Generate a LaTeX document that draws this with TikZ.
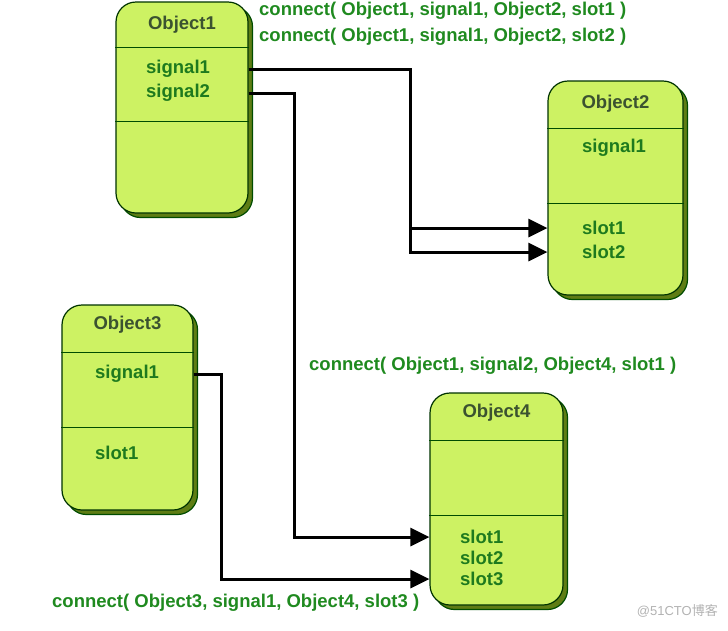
\documentclass[tikz,border=0pt]{standalone}
\usepackage{fontspec}
\setmainfont{Liberation Sans}
\newfontfamily\cjkfont{Noto Sans CJK SC}
\usetikzlibrary{arrows.meta,shadows}

\definecolor{boxfill}{HTML}{CDF263}
\definecolor{boxshadow}{HTML}{5E7D14}
\definecolor{titlecol}{HTML}{3B5230}
\definecolor{itemcol}{HTML}{1E7A1E}
\definecolor{callcol}{HTML}{1F8A1F}

\tikzset{
    objbox/.style={draw=black!80!green, line width=1.2pt, fill=boxfill, rounded corners=20pt,
        drop shadow={shadow xshift=4.5pt, shadow yshift=-4.5pt, fill=boxshadow, draw=black!70!green, opacity=1}},
    divider/.style={draw=black!70!green, line width=1pt},
    objtitle/.style={text=titlecol, font=\fontsize{18.5}{22}\selectfont\bfseries},
    item/.style={anchor=west, inner sep=0pt, text=itemcol, font=\fontsize{18.5}{22}\selectfont\bfseries},
    call/.style={anchor=west, inner sep=0pt, text=callcol, font=\fontsize{18.5}{22}\selectfont\bfseries},
    wire/.style={line width=3pt, -{Triangle[length=19pt,width=18pt]}}
}

\begin{document}
\begin{tikzpicture}[x=1pt, y=-1pt]
            \useasboundingbox (0,0) rectangle (728,630);

            \node[objbox, minimum width=132pt, minimum height=211pt] (o1) at (182, 107.5) {};
            \node[objbox, minimum width=135pt, minimum height=214pt] (o2) at (615.5, 188) {};
            \node[objbox, minimum width=131pt, minimum height=205pt] (o3) at (127.5, 407.5) {};
            \node[objbox, minimum width=133pt, minimum height=212pt] (o4) at (496.5, 499) {};

            \draw[divider] (o1.west |- 0,47) -- (o1.east |- 0,47);
            \draw[divider] (o1.west |- 0,121) -- (o1.east |- 0,121);
            \draw[divider] (o2.west |- 0,128) -- (o2.east |- 0,128);
            \draw[divider] (o2.west |- 0,203) -- (o2.east |- 0,203);
            \draw[divider] (o3.west |- 0,352) -- (o3.east |- 0,352);
            \draw[divider] (o3.west |- 0,427) -- (o3.east |- 0,427);
            \draw[divider] (o4.west |- 0,440) -- (o4.east |- 0,440);
            \draw[divider] (o4.west |- 0,515) -- (o4.east |- 0,515);

            \node[objtitle] (o1title) at (o1 |- 0,25) {Object1};
            \node[item] (o1sig1) at (146, 69) {signal1};
            \node[item] (o1sig2) at (146, 93) {signal2};

            \node[objtitle] (o2title) at (o2 |- 0,104) {Object2};
            \node[item] (o2sig1) at (582, 148) {signal1};
            \node[item] (o2slot1) at (582, 228) {slot1};
            \node[item] (o2slot2) at (582, 252) {slot2};

            \node[objtitle] (o3title) at (o3 |- 0,325) {Object3};
            \node[item] (o3sig1) at (95, 374) {signal1};
            \node[item] (o3slot1) at (95, 453) {slot1};

            \node[objtitle] (o4title) at (o4 |- 0,413) {Object4};
            \node[item] (o4slot1) at (460, 537) {slot1};
            \node[item] (o4slot2) at (460, 558) {slot2};
            \node[item] (o4slot3) at (460, 579) {slot3};

            \draw[wire] (o1sig1 -| o1.east) -- ++(162,0) |- (o2slot1 -| o2.west);
            \draw[wire] (o1sig1 -| o1.east) -- ++(162,0) |- (o2slot2 -| o2.west);
            \draw[wire] (o1sig2 -| o1.east) -- ++(46,0) |- (o4slot1 -| o4.west);
            \draw[wire] (o3sig1 -| o3.east) -- ++(28,0) |- (o4slot3 -| o4.west);

            \node[call] (call1) at (259, 11) {connect( Object1, signal1, Object2, slot1 )};
            \node[call] (call2) at (259, 37) {connect( Object1, signal1, Object2, slot2 )};
            \node[call] (call3) at (309, 366) {connect( Object1, signal2, Object4, slot1 )};
            \node[call] (call4) at (52, 603) {connect( Object3, signal1, Object4, slot3 )};

            \node[anchor=east, inner sep=0pt, text=black!30, font=\fontsize{13}{15}\selectfont] (mark) at (718, 611) {@51CTO\cjkfont 博客};
        \end{tikzpicture}
\end{document}
